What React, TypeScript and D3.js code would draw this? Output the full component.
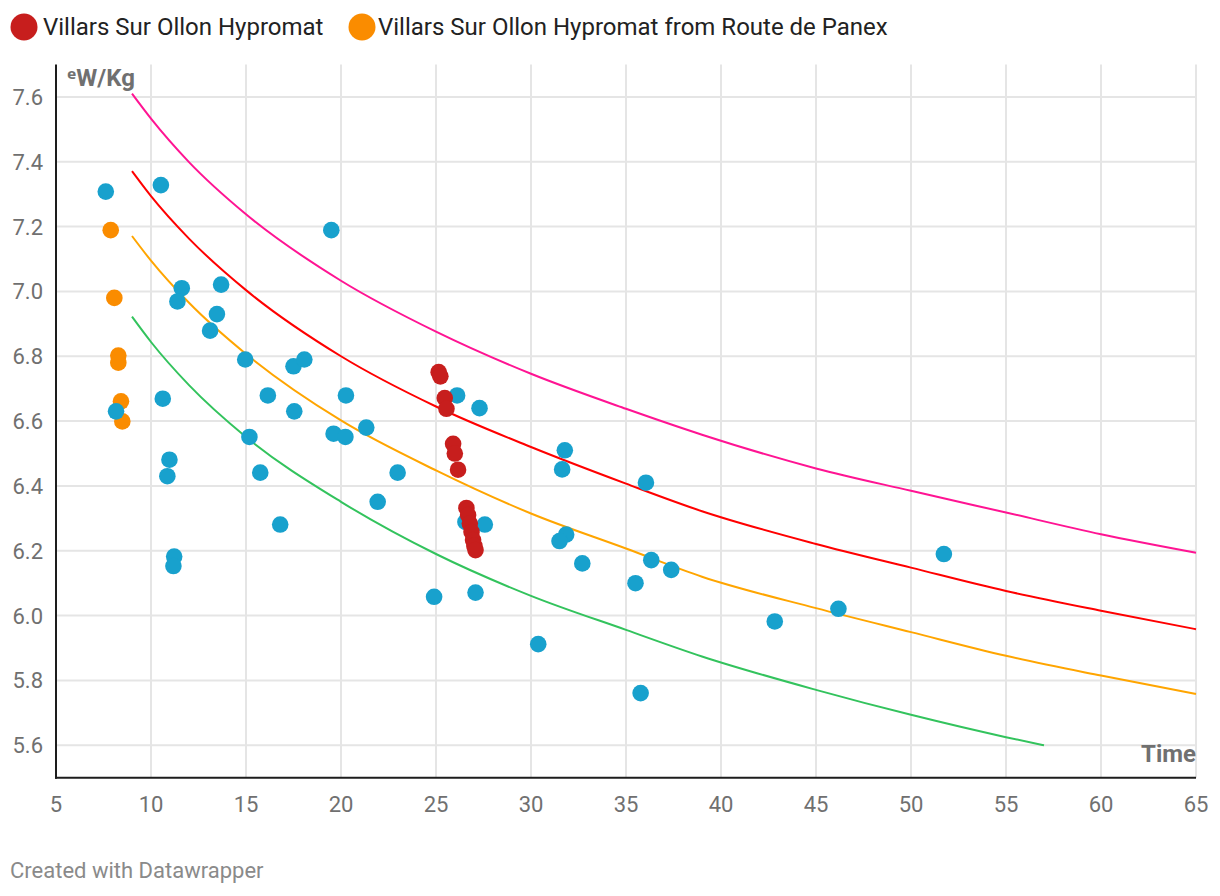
import React from "react";
import * as d3 from "d3";

// ---- Data ----
const blueTimes = [7.62, 10.52, 19.49, 11.62, 11.39, 13.69, 13.47, 13.11, 14.96, 17.5, 18.07, 10.62, 16.15, 17.54, 20.26, 15.18, 19.61, 20.23, 21.33, 10.97, 10.86, 15.75, 22.98, 21.93, 16.8, 11.22, 11.18, 8.16, 26.11, 27.29, 31.78, 31.64, 36.05, 26.55, 27.57, 31.85, 31.5, 32.7, 36.33, 37.38, 35.5, 24.9, 27.08, 30.38, 35.77, 42.83, 46.18, 51.73];
const blueWkg = [7.308, 7.328, 7.189, 7.01, 6.969, 7.021, 6.93, 6.879, 6.79, 6.769, 6.79, 6.669, 6.679, 6.63, 6.679, 6.551, 6.561, 6.551, 6.58, 6.481, 6.43, 6.441, 6.441, 6.351, 6.281, 6.182, 6.153, 6.63, 6.679, 6.64, 6.51, 6.451, 6.41, 6.289, 6.281, 6.25, 6.23, 6.161, 6.171, 6.141, 6.1, 6.058, 6.071, 5.912, 5.761, 5.982, 6.021, 6.19];

const panexTimes = [7.88, 8.07, 8.28, 8.28, 8.42, 8.49];
const panexWkg = [7.189, 6.98, 6.802, 6.78, 6.661, 6.599];

const hypromatTimes = [25.14, 25.23, 25.46, 25.55, 25.9, 25.99, 26.16, 26.6, 26.69, 26.78, 26.87, 26.95, 27.02, 27.08];
const hypromatWkg = [6.751, 6.738, 6.671, 6.638, 6.53, 6.5, 6.45, 6.332, 6.31, 6.284, 6.258, 6.233, 6.215, 6.202];

const curveTimes = [9, 10, 12, 15, 20, 25, 30, 35, 39, 45, 50, 55, 60, 65];
const pinkCurve = [7.61, 7.533, 7.399, 7.238, 7.033, 6.876, 6.746, 6.638, 6.558, 6.454, 6.385, 6.318, 6.251, 6.194];
const redCurve = [7.371, 7.294, 7.163, 7.004, 6.8, 6.645, 6.52, 6.407, 6.322, 6.221, 6.148, 6.076, 6.015, 5.958];
const orangeCurve = [7.171, 7.095, 6.965, 6.807, 6.602, 6.448, 6.315, 6.207, 6.12, 6.023, 5.949, 5.876, 5.815, 5.758];
const greenTimes = [9, 10, 12, 15, 20, 25, 30, 35, 39, 45, 50, 55, 57];
const greenCurve = [6.922, 6.844, 6.711, 6.551, 6.351, 6.19, 6.061, 5.956, 5.874, 5.771, 5.694, 5.625, 5.6];

const xTicks = [5, 10, 15, 20, 25, 30, 35, 40, 45, 50, 55, 60, 65];
const yTicks = [5.6, 5.8, 6.0, 6.2, 6.4, 6.6, 6.8, 7.0, 7.2, 7.4, 7.6];

const legendItems = ["Villars Sur Ollon Hypromat", "Villars Sur Ollon Hypromat from Route de Panex"];

// ---- Layout ----
const W = 1220;
const H = 896;
const plotLeft = 56;
const plotRight = 1196;
const plotTop = 64.5;
const plotBottom = 777.7;
const font = "Roboto, 'Noto Sans', sans-serif";

const COLORS = {
  blue: "#18a1cd",
  red: "#c71e1d",
  orange: "#fa8c00",
  pink: "#ff1493",
  redLine: "#ff0000",
  orangeLine: "#ffa500",
  green: "#33c35d",
};

export default function App() {
  const x = d3.scaleLinear().domain([5, 65]).range([plotLeft, plotRight]);
  const y = d3.scaleLinear().domain([5.5, 7.7]).range([plotBottom, plotTop]);

  const line = d3
    .line<[number, number]>()
    .x((d) => x(d[0]))
    .y((d) => y(d[1]))
    .curve(d3.curveMonotoneX);

  const curves = [
    { t: curveTimes, v: pinkCurve, c: COLORS.pink },
    { t: curveTimes, v: redCurve, c: COLORS.redLine },
    { t: curveTimes, v: orangeCurve, c: COLORS.orangeLine },
    { t: greenTimes, v: greenCurve, c: COLORS.green },
  ];

  const r = 8.3;

  return (
    <svg
      width={W}
      height={H}
      style={{ position: "absolute", left: 0, top: 0, display: "block", background: "#fff" }}
      fontFamily={font}
    >
      {/* Legend */}
      <circle cx={24} cy={27} r={13.5} fill={COLORS.red} />
      <text x={43} y={35} fontSize={24} fill="#222">{legendItems[0]}</text>
      <circle cx={362} cy={27} r={13.5} fill={COLORS.orange} />
      <text x={378} y={35} fontSize={24} fill="#222">{legendItems[1]}</text>

      {/* Grid */}
      {yTicks.map((t) => (
        <line key={"gy" + t} x1={plotLeft} x2={plotRight} y1={y(t)} y2={y(t)} stroke="#e5e5e5" strokeWidth={2} />
      ))}
      {xTicks.slice(1).map((t) => (
        <line key={"gx" + t} x1={x(t)} x2={x(t)} y1={plotTop} y2={plotBottom} stroke="#e5e5e5" strokeWidth={2} />
      ))}

      {/* Y tick labels */}
      {yTicks.map((t) => (
        <text key={"ty" + t} x={43} y={y(t) + 8} fontSize={22} fill="#707070" textAnchor="end">
          {d3.format(".1f")(t)}
        </text>
      ))}
      {/* X tick labels */}
      {xTicks.map((t) => (
        <text key={"tx" + t} x={x(t)} y={812} fontSize={22} fill="#707070" textAnchor="middle">
          {t}
        </text>
      ))}

      {/* Curves */}
      {curves.map((c, i) => (
        <path
          key={"c" + i}
          d={line(c.t.map((t, j) => [t, c.v[j]] as [number, number])) || ""}
          fill="none"
          stroke={c.c}
          strokeWidth={2}
        />
      ))}

      {/* Dots */}
      {panexTimes.map((t, i) => (
        <circle key={"o" + i} cx={x(t)} cy={y(panexWkg[i])} r={r} fill={COLORS.orange} />
      ))}
      {blueTimes.map((t, i) => (
        <circle key={"b" + i} cx={x(t)} cy={y(blueWkg[i])} r={r} fill={COLORS.blue} />
      ))}
      {hypromatTimes.map((t, i) => (
        <circle key={"r" + i} cx={x(t)} cy={y(hypromatWkg[i])} r={r} fill={COLORS.red} />
      ))}

      {/* Axes */}
      <line x1={plotLeft} x2={plotLeft} y1={plotTop} y2={plotBottom + 1} stroke="#1d1d1d" strokeWidth={2} />
      <line x1={plotLeft - 1} x2={plotRight} y1={plotBottom} y2={plotBottom} stroke="#1d1d1d" strokeWidth={2} />

      {/* Axis titles */}
      <text x={67} y={86} fontSize={24} fontWeight="bold" fill="#707070">
        ᵉW/Kg
      </text>
      <text x={plotRight} y={762} fontSize={24} fontWeight="bold" fill="#707070" textAnchor="end">
        Time
      </text>

      {/* Footer */}
      <text x={10} y={878} fontSize={22} fill="#8a8a8a">Created with Datawrapper</text>
    </svg>
  );
}
